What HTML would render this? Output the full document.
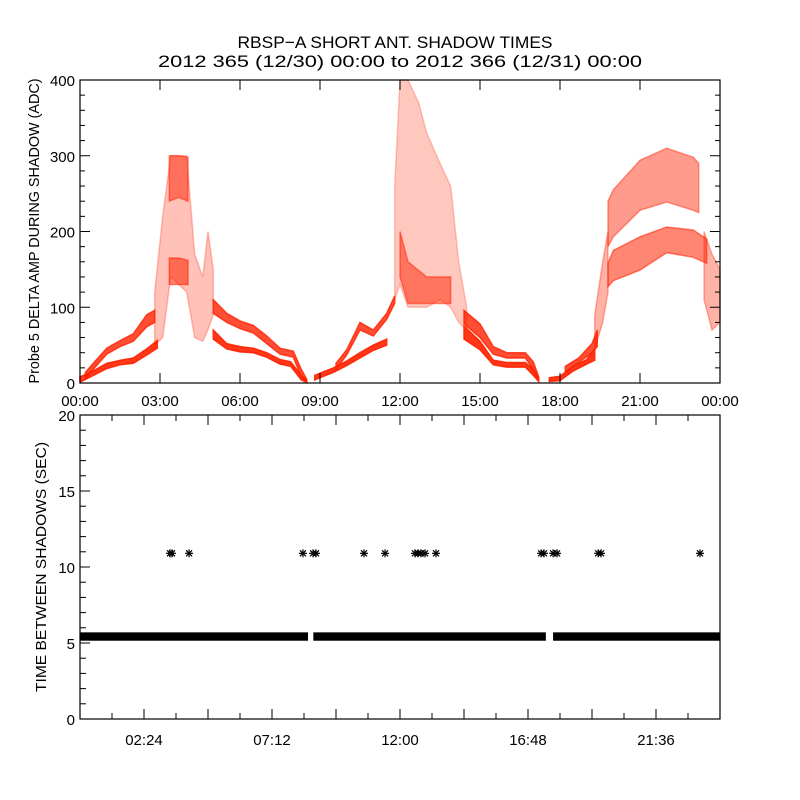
<!DOCTYPE html>
<html><head><meta charset="utf-8"><style>
html,body{margin:0;padding:0;background:#fff;}
svg{display:block;font-family:"Liberation Sans","DejaVu Sans",sans-serif;}
</style></head><body>
<svg id="chart" width="800" height="800" viewBox="0 0 800 800" xmlns="http://www.w3.org/2000/svg">
<rect x="0" y="0" width="800" height="800" fill="#fff"/>
<text x="395" y="48" font-size="17" text-anchor="middle" textLength="315" lengthAdjust="spacingAndGlyphs">RBSP−A SHORT ANT. SHADOW TIMES</text>
<text x="400" y="67" font-size="17" text-anchor="middle" textLength="484" lengthAdjust="spacingAndGlyphs">2012 365 (12/30) 00:00 to 2012 366 (12/31) 00:00</text>
<g id="topPanel"></g>
<g id="botPanel"></g>
</svg>
<script>
// ---- Top panel data: bands as [hour, low, high] ----
const bandDenseLowerA = [[0,1,8],[0.5,10,16],[1,19,26],[1.5,24,30],[2,26,33],[2.5,37,45],[2.9,46,56]];
const bandDenseUpperA = [[0.2,6,14],[0.6,22,30],[1,38,46],[1.5,48,56],[2,55,65],[2.5,74,90],[2.8,80,96]];
const bandSparseSpikeA = [[2.8,50,120],[3.1,60,220],[3.4,140,300],[3.7,130,300],[4.0,120,300],[4.3,60,170],[4.6,55,140],[4.8,70,200],[5.0,90,150]];
const bandDenseHighA = [[3.35,240,300],[3.7,245,300],[4.05,240,298]];
const bandDenseMidA = [[3.35,130,165],[3.7,130,165],[4.05,130,162]];
const bandDenseUpperA2 = [[5,92,110],[5.5,80,92],[6,72,82],[6.5,66,76],[7,52,62],[7.5,38,46],[8,34,42],[8.3,8,18],[8.5,1,5]];
const bandDenseLowerA2 = [[5,58,70],[5.5,45,52],[6,41,48],[6.5,40,46],[7,34,40],[7.5,25,31],[7.9,22,28],[8.3,4,10],[8.5,1,4]];

const bandDenseLowerB = [[8.8,4,10],[9,7,13],[9.5,14,20],[10,23,29],[10.5,33,40],[11,43,50],[11.5,50,58]];
const bandDenseUpperB = [[9.6,18,26],[10,37,44],[10.5,70,80],[11,62,70],[11.5,84,92],[11.8,105,115]];
const bandSparseSpikeB = [[11.8,110,260],[12.0,130,400],[12.3,100,400],[12.7,100,370],[13.0,100,330],[13.5,110,290],[13.9,100,260],[14.2,80,160],[14.5,70,100]];
const bandDenseMidB = [[12.0,140,200],[12.3,105,160],[13.0,105,140],[13.9,105,140]];
const bandDenseUpperB2 = [[14.4,78,96],[15,60,78],[15.5,38,48],[16,33,40],[16.7,33,40],[17.0,18,28],[17.2,3,8]];
const bandDenseLowerB2 = [[14.4,58,75],[15,44,55],[15.5,24,30],[16,21,27],[16.7,21,27],[17.0,10,18],[17.2,2,6]];

const bandDenseLowerC = [[17.6,2,7],[18,3,9],[18.5,16,22],[19,25,31],[19.3,30,45]];
const bandDenseUpperC = [[18.2,14,22],[18.7,27,33],[19.2,40,52],[19.4,48,70]];
const bandSparseRiseC = [[19.3,45,90],[19.6,80,160],[19.8,120,200]];
const bandArcUpperC = [[19.8,180,240],[20,193,255],[21,228,294],[22,239,310],[23,228,298],[23.2,225,290]];
const bandArcLowerC = [[19.8,127,158],[20,135,175],[21,149,193],[22,172,206],[23,166,202],[23.5,158,190]];
const bandSparseTailC = [[23.4,110,200],[23.7,70,170],[24,80,150]];

const topYTicks = [0,100,200,300,400];
const topXTicks = [0,3,6,9,12,15,18,21,24];
const topXLabels = ["00:00","03:00","06:00","09:00","12:00","15:00","18:00","21:00","00:00"];

// ---- Bottom panel data ----
const intervalSegments = [[0,8.55,5.15,5.7],[8.75,17.47,5.15,5.7],[17.74,24,5.15,5.7]];
const starHours = [3.375,3.45,4.09,8.36,8.74,8.85,10.65,11.44,12.56,12.68,12.79,12.94,13.35,17.29,17.4,17.74,17.89,19.43,19.54,23.25];
const starValues = [10.9,10.9,10.9,10.9,10.9,10.9,10.9,10.9,10.9,10.9,10.9,10.9,10.9,10.9,10.9,10.9,10.9,10.9,10.9,10.9];
const botYTicks = [0,5,10,15,20];
const botXTicks = [2.4,7.2,12,16.8,21.6];
const botXLabels = ["02:24","07:12","12:00","16:48","21:36"];

const NS="http://www.w3.org/2000/svg";
function mk(tag,attrs,parent,txt){const e=document.createElementNS(NS,tag);for(const k in attrs)e.setAttribute(k,attrs[k]);if(txt!==undefined)e.textContent=txt;parent.appendChild(e);return e;}
const L=80,R=720;
const xS=h=>L+(R-L)*h/24;
const T1=80,B1=383,yT=v=>B1-(B1-T1)*v/400;
const T2=415,B2=719,yB=v=>B2-(B2-T2)*v/20;

const topG=document.getElementById('topPanel');
const botG=document.getElementById('botPanel');
const RED="#ff2200";
function band(arr,op,name){
  let d="M"+arr.map(p=>xS(p[0]).toFixed(1)+","+yT(p[2]).toFixed(1)).join(" L");
  d+=" L"+arr.slice().reverse().map(p=>xS(p[0]).toFixed(1)+","+yT(p[1]).toFixed(1)).join(" L")+" Z";
  const e=mk('path',{d:d,fill:RED,'fill-opacity':op,stroke:RED,'stroke-opacity':op,'stroke-width':1.5},topG);
  
  
}
band(bandSparseSpikeA,0.28,'spike-a-sparse');
band(bandDenseHighA,0.5,'spike-a-high');
band(bandDenseMidA,0.55,'spike-a-mid');
band(bandDenseLowerA,0.9,'band-a-lower');
band(bandDenseUpperA,0.8,'band-a-upper');
band(bandDenseUpperA2,0.8,'band-a2-upper');
band(bandDenseLowerA2,0.9,'band-a2-lower');
band(bandSparseSpikeB,0.25,'spike-b-sparse');
band(bandDenseMidB,0.5,'spike-b-mid');
band(bandDenseLowerB,0.9,'band-b-lower');
band(bandDenseUpperB,0.8,'band-b-upper');
band(bandDenseUpperB2,0.8,'band-b2-upper');
band(bandDenseLowerB2,0.9,'band-b2-lower');
band(bandDenseLowerC,0.9,'band-c-lower');
band(bandDenseUpperC,0.8,'band-c-upper');
band(bandSparseRiseC,0.35,'rise-c-sparse');
band(bandArcUpperC,0.45,'arc-c-upper');
band(bandArcLowerC,0.55,'arc-c-lower');
band(bandSparseTailC,0.35,'tail-c-sparse');

function frame(g,T,B,name){
  const r=mk('rect',{x:L,y:T,width:R-L,height:B-T,fill:'none',stroke:'#000','stroke-width':1.2},g);
  
  
}
frame(topG,T1,B1,'top-plot-frame');
for(let v=0;v<=400;v+=20){const maj=v%100===0;const len=maj?10:5;
  mk('line',{x1:L,x2:L+len,y1:yT(v),y2:yT(v),stroke:'#000'},topG);
  mk('line',{x1:R,x2:R-len,y1:yT(v),y2:yT(v),stroke:'#000'},topG);}
topYTicks.forEach(v=>{const t=mk('text',{x:L-5,y:yT(v)+6,'font-size':15,'text-anchor':'end'},topG,String(v));
  
  });
topXTicks.forEach((h,i)=>{
  mk('line',{x1:xS(h),x2:xS(h),y1:B1,y2:B1-10,stroke:'#000'},topG);
  mk('line',{x1:xS(h),x2:xS(h),y1:T1,y2:T1+10,stroke:'#000'},topG);
  const t=mk('text',{x:xS(h),y:406,'font-size':15,'text-anchor':'middle'},topG,topXLabels[i]);
  
  });
const ty=mk('text',{x:0,y:0,'font-size':15,'text-anchor':'middle',transform:'translate(39,231) rotate(-90)',textLength:305,lengthAdjust:'spacingAndGlyphs'},topG,'Probe 5 DELTA AMP DURING SHADOW (ADC)');



intervalSegments.forEach(s=>{const r=mk('rect',{x:xS(s[0]),y:yB(s[3]),width:xS(s[1])-xS(s[0]),height:yB(s[2])-yB(s[3]),fill:'#000'},botG);
  
  });
starHours.forEach((h,i)=>{const cx=xS(h),cy=yB(starValues[i]);
  const g=mk('g',{stroke:'#000','stroke-width':1.2},botG);
  
  
  mk('line',{x1:cx-4,x2:cx+4,y1:cy,y2:cy},g);
  mk('line',{x1:cx,x2:cx,y1:cy-4,y2:cy+4},g);
  mk('line',{x1:cx-3,x2:cx+3,y1:cy-3,y2:cy+3},g);
  mk('line',{x1:cx-3,x2:cx+3,y1:cy+3,y2:cy-3},g);});
frame(botG,T2,B2,'bottom-plot-frame');
for(let v=0;v<=20;v+=1){const maj=v%5===0;const len=maj?10:6;
  mk('line',{x1:L,x2:L+len,y1:yB(v),y2:yB(v),stroke:'#000'},botG);}
botYTicks.forEach(v=>{const t=mk('text',{x:L-5,y:yB(v)+6,'font-size':15,'text-anchor':'end'},botG,String(v));
  
  });
for(let h=1.2;h<24;h+=1.2){const maj=Math.abs((h/2.4)-Math.round(h/2.4))<0.01;
  mk('line',{x1:xS(h),x2:xS(h),y1:B2,y2:B2-(maj?10:6),stroke:'#000'},botG);
  mk('line',{x1:xS(h),x2:xS(h),y1:T2,y2:T2+(maj?10:6),stroke:'#000'},botG);}
botXTicks.forEach((h,i)=>{const t=mk('text',{x:xS(h),y:745,'font-size':15,'text-anchor':'middle'},botG,botXLabels[i]);
  
  });
const by=mk('text',{x:0,y:0,'font-size':15,'text-anchor':'middle',transform:'translate(46,567) rotate(-90)',textLength:250,lengthAdjust:'spacingAndGlyphs'},botG,'TIME BETWEEN SHADOWS (SEC)');


</script>
</body></html>
